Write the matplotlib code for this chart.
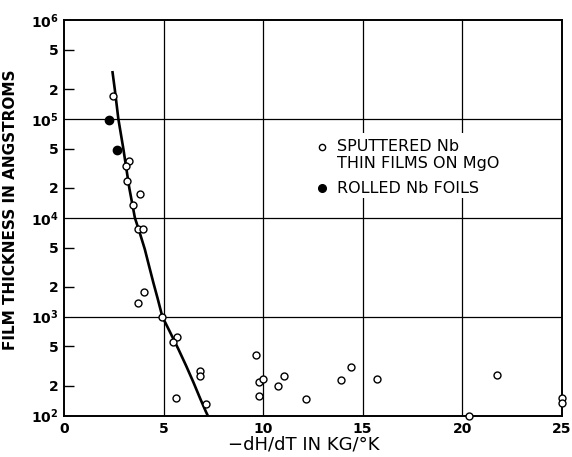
import numpy as np
import matplotlib
matplotlib.use('Agg')
import matplotlib.pyplot as plt
from matplotlib.patches import Rectangle
from matplotlib.ticker import FixedLocator, NullFormatter

plt.rcParams['font.family'] = ['DejaVu Sans']
plt.rcParams['mathtext.fontset'] = 'dejavusans'

# sputtered Nb thin films on MgO (open circles)
film_x = [2.45, 3.28, 3.12, 3.18, 3.82, 3.48, 3.70, 3.98, 4.02, 3.70, 4.93,
          5.69, 5.46, 5.63, 6.85, 6.85, 7.15, 9.65, 9.80, 9.98, 9.82, 10.74,
          11.07, 12.18, 13.92, 14.42, 15.71, 20.35, 21.77, 25.0, 25.0]
film_y = [1.7e5, 3.77e4, 3.3e4, 2.33e4, 1.74e4, 1.36e4, 7.7e3, 7.7e3, 1.76e3, 1.38e3, 1.0e3,
          617, 559, 151, 283, 249, 132, 410, 219, 233, 158, 198,
          251, 147, 226, 307, 234, 100, 259, 152, 135]

# rolled Nb foils (filled circles)
foil_x = [2.28, 2.68]
foil_y = [9.7e4, 4.9e4]

# hand-drawn curve
curve_x = [2.43, 2.55, 2.73, 2.98, 3.28, 3.56, 3.80, 4.06, 4.27, 4.49, 4.71,
           4.94, 5.33, 5.74, 6.13, 6.50, 6.85, 7.14, 7.22]
curve_y = [3.05e5, 2e5, 1e5, 5e4, 2e4, 1e4, 7.1e3, 4.8e3, 3.27e3, 2.2e3, 1.51e3,
           1e3, 695, 472, 320, 217, 147, 108, 100]

x_ticks = [0, 5, 10, 15, 20, 25]
y_major = [1e2, 1e3, 1e4, 1e5, 1e6]
y_major_labels = [r'$\mathbf{10^{2}}$', r'$\mathbf{10^{3}}$', r'$\mathbf{10^{4}}$',
                  r'$\mathbf{10^{5}}$', r'$\mathbf{10^{6}}$']
y_minor = [2e2, 5e2, 2e3, 5e3, 2e4, 5e4, 2e5, 5e5]

fig = plt.figure(figsize=(5.72, 4.57), dpi=100)
ax = fig.add_axes([0.1119, 0.0908, 0.870, 0.8654])

ax.set_yscale('log')
ax.set_xlim(0, 25)
ax.set_ylim(1e2, 1e6)

ax.plot(curve_x, curve_y, color='black', lw=1.9, solid_joinstyle='round',
        solid_capstyle='butt', zorder=2)
ax.plot(film_x, film_y, 'o', ms=5, mfc='white', mec='black', mew=1.0, zorder=3, clip_on=False)
ax.plot(foil_x, foil_y, 'o', ms=6, mfc='black', mec='black', zorder=3)

ax.xaxis.set_major_locator(FixedLocator(x_ticks))
ax.set_xticklabels([str(t) for t in x_ticks])
ax.tick_params(axis='x', which='both', length=0, pad=5, labelsize=10)
for lab in ax.get_xticklabels():
    lab.set_fontweight('bold')

ax.yaxis.set_major_locator(FixedLocator(y_major))
ax.set_yticklabels(y_major_labels)
ax.yaxis.set_minor_formatter(NullFormatter())
ax.set_yticks(y_minor, labels=['2', '5'] * 4, minor=True)
ax.tick_params(axis='y', which='major', length=0, pad=4, labelsize=10)
ax.tick_params(axis='y', which='minor', direction='in', length=7, width=1.0,
               pad=4, labelsize=10)
for lab in ax.get_yticklabels(minor=True):
    lab.set_fontweight('bold')

for v in [5, 10, 15, 20]:
    ax.axvline(v, color='black', lw=0.9, zorder=1)
for v in [1e3, 1e4, 1e5]:
    ax.axhline(v, color='black', lw=0.9, zorder=1)

for s in ax.spines.values():
    s.set_linewidth(1.4)

ax.set_ylabel('FILM THICKNESS IN ANGSTROMS', fontsize=11, fontweight='bold')
ax.yaxis.set_label_coords(-0.092, 0.52)
ax.set_xlabel('\u2212dH/dT IN KG/\u00b0K', fontsize=13)
ax.xaxis.set_label_coords(0.482, -0.050)

# legend, on a white patch that hides the grid
ax.add_patch(Rectangle((0.50, 0.55), 0.43, 0.164, transform=ax.transAxes,
                       facecolor='white', edgecolor='none', zorder=1.5))
ax.plot([0.518], [0.680], 'o', ms=4.5, mfc='white', mec='black', mew=1.0,
        transform=ax.transAxes, clip_on=False, zorder=4)
ax.plot([0.518], [0.574], 'o', ms=5.5, mfc='black', mec='black',
        transform=ax.transAxes, clip_on=False, zorder=4)
ax.text(0.548, 0.680, 'SPUTTERED Nb', transform=ax.transAxes, va='center', fontsize=11.5, zorder=4)
ax.text(0.548, 0.636, 'THIN FILMS ON MgO', transform=ax.transAxes, va='center', fontsize=11.5, zorder=4)
ax.text(0.548, 0.574, 'ROLLED Nb FOILS', transform=ax.transAxes, va='center', fontsize=11.5, zorder=4)

fig.savefig('out.png', dpi=100)
